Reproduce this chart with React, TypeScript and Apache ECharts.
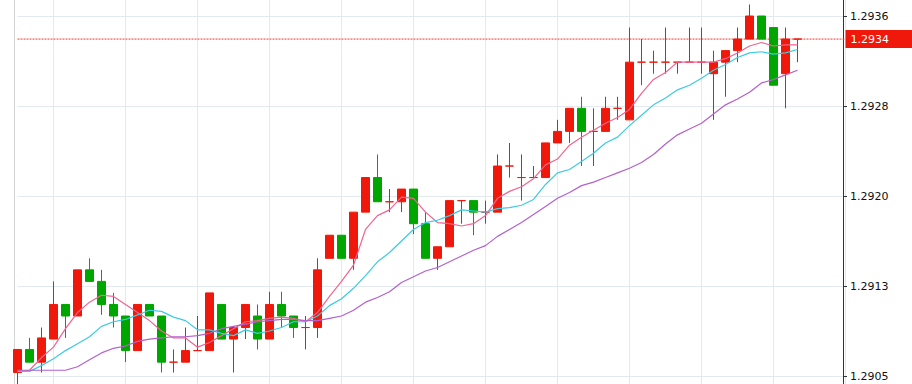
import React, { useEffect, useRef } from "react";
import * as echarts from "echarts";

const categories: string[] = Array.from({ length: 70 }, (_, i) => String(i + 1));

const opens = [
  1.29051, 1.29071, 1.2906, 1.2908, 1.2911, 1.291, 1.2914, 1.2913, 1.2911, 1.291,
  1.2907, 1.2911, 1.291, 1.2906, 1.2906, 1.2907, 1.2907, 1.2911, 1.2908, 1.2909,
  1.291, 1.2908, 1.2911, 1.291, 1.2909, 1.2909, 1.2915, 1.2917, 1.2915, 1.2919,
  1.2922, 1.29199, 1.29199, 1.2921, 1.2918, 1.2915, 1.2916, 1.292, 1.292, 1.2919,
  1.2919, 1.2923, 1.2922, 1.2922, 1.2922, 1.2925, 1.2926, 1.2928, 1.2926, 1.2926,
  1.2928, 1.2927, 1.2932, 1.2932, 1.2932, 1.2932, 1.2932, 1.2932, 1.2931, 1.2932,
  1.2933, 1.2934, 1.2936, 1.2935, 1.2931, 1.2934,
];
const closes = [
  1.29071, 1.2906, 1.29081, 1.2911, 1.291, 1.2914, 1.2913, 1.2911, 1.291, 1.2907,
  1.2911, 1.291, 1.2906, 1.2906, 1.2907, 1.2907, 1.2912, 1.2908, 1.2909, 1.2911,
  1.2908, 1.2911, 1.291, 1.2909, 1.2909, 1.2914, 1.2917, 1.2915, 1.2919, 1.2922,
  1.29199, 1.29199, 1.2921, 1.2918, 1.2915, 1.2916, 1.292, 1.292, 1.2919, 1.2919,
  1.2923, 1.2923, 1.2922, 1.2922, 1.2925, 1.2926, 1.2928, 1.2926, 1.2926, 1.2928,
  1.2928, 1.2932, 1.2932, 1.2932, 1.2932, 1.2932, 1.2932, 1.2932, 1.2932, 1.2933,
  1.2934, 1.2936, 1.2934, 1.293, 1.2934, 1.2934,
];
const lows = [
  1.29041, 1.2906, 1.29051, 1.2908, 1.29081, 1.291, 1.2913, 1.29101, 1.2909, 1.2906,
  1.2907, 1.291, 1.29051, 1.29051, 1.2906, 1.2907, 1.2907, 1.2908, 1.29051, 1.2908,
  1.29071, 1.2908, 1.2909, 1.29081, 1.29071, 1.29081, 1.2915, 1.2915, 1.2914, 1.2919,
  1.29199, 1.2919, 1.2919, 1.29171, 1.2915, 1.2914, 1.2916, 1.2918, 1.2917, 1.2918,
  1.2919, 1.2922, 1.292, 1.2922, 1.2922, 1.2925, 1.2925, 1.2923, 1.2923, 1.2926,
  1.2927, 1.2927, 1.293, 1.2931, 1.2931, 1.2931, 1.2932, 1.2931, 1.2927, 1.2929,
  1.2932, 1.2934, 1.2934, 1.293, 1.2928, 1.2932,
];
const highs = [
  1.29071, 1.29081, 1.2909, 1.2913, 1.2911, 1.2914, 1.2915, 1.2914, 1.2912, 1.291,
  1.2911, 1.2911, 1.291, 1.29071, 1.2909, 1.291, 1.2912, 1.2911, 1.2909, 1.2911,
  1.2911, 1.29121, 1.29121, 1.291, 1.291, 1.2915, 1.2917, 1.2917, 1.2919, 1.2922,
  1.2924, 1.2921, 1.2921, 1.2921, 1.2919, 1.2916, 1.292, 1.292, 1.292, 1.292,
  1.2924, 1.2925, 1.2924, 1.2923, 1.2925, 1.2927, 1.2928, 1.2929, 1.2928, 1.2929,
  1.2929, 1.2935, 1.2934, 1.2933, 1.2935, 1.2932, 1.2935, 1.2935, 1.2933, 1.2933,
  1.2935, 1.2937, 1.2936, 1.2935, 1.2935, 1.2934,
];

const ma5 = [
  1.29052, 1.29053, 1.29064, 1.29073, 1.29089, 1.29103, 1.29112, 1.29118, 1.29117, 1.2911,
  1.29103, 1.29096, 1.29087, 1.29081, 1.29081, 1.29073, 1.29077, 1.29083, 1.29089, 1.29095,
  1.29096, 1.29098, 1.29099, 1.29098, 1.29095, 1.29103, 1.29117, 1.2913, 1.29144, 1.29175,
  1.29187, 1.29192, 1.29203, 1.29202, 1.2919, 1.29181, 1.2918, 1.29178, 1.2918, 1.29187,
  1.29202, 1.29208, 1.29212, 1.29219, 1.29231, 1.29236, 1.29248, 1.29255, 1.29261, 1.29267,
  1.29272, 1.29279, 1.29293, 1.29305, 1.29311, 1.2932, 1.2932, 1.2932, 1.2932, 1.29323,
  1.29328, 1.29334, 1.29337, 1.29334, 1.29335, 1.29335,
];
const ma10 = [
  1.29052, 1.29052, 1.29057, 1.29063, 1.2907, 1.29076, 1.29082, 1.29091, 1.29095, 1.29097,
  1.29101, 1.29105, 1.29104, 1.29099, 1.29096, 1.29088, 1.29088, 1.29085, 1.29083, 1.29088,
  1.29085, 1.29087, 1.2909, 1.29095, 1.29095, 1.291, 1.29109, 1.29115, 1.29124, 1.29135,
  1.29147, 1.29155, 1.29165, 1.29175, 1.29181, 1.29183, 1.29187, 1.29192, 1.29191, 1.2919,
  1.29193, 1.29194, 1.29196, 1.29201, 1.29214, 1.29224, 1.29227, 1.29234, 1.29241, 1.2925,
  1.29255, 1.29265, 1.29274, 1.29283, 1.29289, 1.29296, 1.293, 1.29306, 1.29313, 1.29318,
  1.29324, 1.29328, 1.29329, 1.29327, 1.29328, 1.29331,
];
const ma20 = [
  1.29053, 1.29053, 1.29053, 1.29053, 1.29053, 1.29056, 1.29062, 1.29068, 1.29072, 1.29074,
  1.29078, 1.2908, 1.29081, 1.29082, 1.29082, 1.29083, 1.29085, 1.29089, 1.29091, 1.29093,
  1.29095, 1.29096, 1.29097, 1.29097, 1.29096, 1.29096, 1.29098, 1.291, 1.29105, 1.29112,
  1.29116, 1.29121, 1.29129, 1.29134, 1.29139, 1.29142, 1.29147, 1.29152, 1.29157, 1.29161,
  1.29169, 1.29175, 1.29181, 1.29188, 1.29195, 1.29202, 1.29207, 1.29213, 1.29216, 1.2922,
  1.29224, 1.29228, 1.29233, 1.2924, 1.29249, 1.29257, 1.29262, 1.29267, 1.29275, 1.29283,
  1.29288, 1.29294, 1.29302, 1.29305, 1.29309, 1.29313,
];

const yMin = 1.29048;
const yMax = 1.2936;
const yStep = 0.00078;
const lastPrice = 1.2934;

const RED = "#f0180a";
const GREEN = "#00a600";
const GRID_COLOR = "#e2e9f0";
const FONT = "DejaVu Sans";

export default function App() {
  const ref = useRef<HTMLDivElement>(null);

  useEffect(() => {
    if (!ref.current) return;
    const chart = echarts.init(ref.current, undefined, { renderer: "svg" });

    const candleData = opens.map((o, i) => {
      const item: any = { value: [o, closes[i], lows[i], highs[i]] };
      if (o === closes[i]) {
        item.itemStyle = { color0: RED, borderColor0: RED, borderColorDoji: RED };
      }
      return item;
    });

    const priceLine = categories.map(() => lastPrice);

    const option: any = {
      animation: false,
      textStyle: { fontFamily: FONT },
      grid: [
        { left: 17.5, right: 66.5, top: 16, bottom: 8 },
        { left: 17.5, right: 66.5, top: 0, bottom: 0 },
      ],
      xAxis: [
        {
          type: "category",
          gridIndex: 0,
          data: categories,
          boundaryGap: false,
          show: false,
        },
        {
          type: "category",
          gridIndex: 1,
          data: categories,
          boundaryGap: false,
          axisLine: { show: false },
          axisTick: { show: false },
          axisLabel: { show: false },
          splitLine: {
            show: true,
            interval: (i: number) => i % 6 === 3,
            lineStyle: { color: GRID_COLOR, width: 1 },
          },
        },
      ],
      yAxis: [
        {
          type: "value",
          gridIndex: 0,
          position: "right",
          offset: -2.5,
          min: yMin,
          max: yMax,
          interval: yStep,
          axisLine: { show: false },
          axisTick: { show: true, length: 4, lineStyle: { color: "#333" } },
          axisLabel: {
            margin: 7,
            color: "#111",
            fontFamily: FONT,
            fontSize: 11,
            formatter: (v: number) => v.toFixed(4),
          },
          splitLine: { show: true, lineStyle: { color: GRID_COLOR, width: 1 } },
        },
        {
          type: "value",
          gridIndex: 1,
          position: "left",
          offset: 3.5,
          min: 0,
          max: 1,
          axisLine: { show: true, lineStyle: { color: "#d4d4d4" } },
          axisTick: { show: false },
          axisLabel: { show: false },
          splitLine: { show: false },
        },
        {
          type: "value",
          gridIndex: 1,
          position: "right",
          offset: -2.5,
          min: 0,
          max: 1,
          axisLine: { show: true, lineStyle: { color: "#333" } },
          axisTick: { show: false },
          axisLabel: { show: false },
          splitLine: { show: false },
        },
      ],
      series: [
        {
          type: "line",
          name: "price",
          xAxisIndex: 0,
          yAxisIndex: 0,
          data: priceLine,
          symbol: "none",
          silent: true,
          z: 1,
          lineStyle: { color: "#f03a30", type: [2, 1], width: 1 },
          endLabel: {
            show: true,
            distance: 0,
            formatter: () => lastPrice.toFixed(4),
            color: "#fff",
            backgroundColor: RED,
            padding: [3, 30, 2, 5],
            fontFamily: FONT,
            fontSize: 11,
            lineHeight: 13,
          },
        },
        {
          type: "candlestick",
          xAxisIndex: 0,
          yAxisIndex: 0,
          clip: false,
          barWidth: 8,
          data: candleData,
          itemStyle: {
            color: RED,
            color0: GREEN,
            borderColor: RED,
            borderColor0: GREEN,
            borderColorDoji: RED,
            borderWidth: 1,
          },
        },
        {
          type: "line",
          xAxisIndex: 0,
          yAxisIndex: 0,
          data: ma5,
          symbol: "none",
          clip: false,
          lineStyle: { color: "#f0648e", width: 1.2 },
        },
        {
          type: "line",
          xAxisIndex: 0,
          yAxisIndex: 0,
          data: ma10,
          symbol: "none",
          clip: false,
          lineStyle: { color: "#3ccbe2", width: 1.2 },
        },
        {
          type: "line",
          xAxisIndex: 0,
          yAxisIndex: 0,
          data: ma20,
          symbol: "none",
          clip: false,
          lineStyle: { color: "#b460cc", width: 1.2 },
        },
      ],
    };

    chart.setOption(option);
    return () => chart.dispose();
  }, []);

  return (
    <div
      ref={ref}
      style={{ position: "fixed", left: 0, top: 0, width: 912, height: 384, background: "#fff" }}
    />
  );
}
